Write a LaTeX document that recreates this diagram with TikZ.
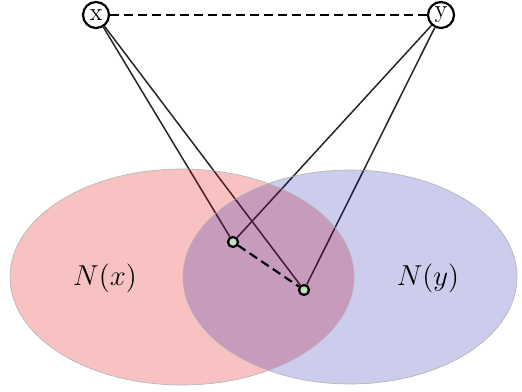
\documentclass[tikz,border=0pt]{standalone}
\usepackage{tikz}
\usetikzlibrary{positioning}

\pgfdeclarelayer{links}
\pgfdeclarelayer{sets}
\pgfsetlayers{links,sets,main}

\tikzset{
  vertex/.style={draw, circle, line width=1.1pt, fill=white, inner sep=0pt, minimum size=13pt, font=\fontsize{12.5}{14}\selectfont},
  nbr/.style={draw, circle, line width=1.1pt, fill=green!25!gray!35, inner sep=0pt, minimum size=5pt},
  link/.style={line width=0.75pt, black!85},
  nonedge/.style={line width=1.1pt, dashed, dash pattern=on 4.5pt off 2.5pt},
  setfill/.style={draw=gray!60, line width=0.3pt},
  setlabel/.style={font=\fontsize{14.5}{17}\selectfont}
}

\begin{document}
\begin{tikzpicture}[x=0.5pt, y=0.5pt]
    \useasboundingbox (0,0) rectangle (522,391);

    % Vertices x and y
    \node[vertex] (x) at (96, 376) {x};
    \node[vertex] (y) at (441, 376) {y};
    \draw[nonedge] (x) -- (y);

    % Common neighbours
    \node[nbr] (u) at (233, 149) {};
    \node[nbr] (v) at (304, 101) {};
    \draw[nonedge] (u) -- (v);

    % Edges to the neighbours
    \begin{pgfonlayer}{links}
        \foreach \s in {x, y} {
            \foreach \t in {u, v} {
                \draw[link] (\s) -- (\t);
            }
        }
    \end{pgfonlayer}

    % Neighbourhoods
    \begin{pgfonlayer}{sets}
        \fill[red!90!black, opacity=0.24] (182, 114) ellipse (172 and 108);
        \fill[blue!65!black, opacity=0.2] (350, 114) ellipse (167 and 107);
        \draw[setfill] (182, 114) ellipse (172 and 108);
        \draw[setfill] (350, 114) ellipse (167 and 107);
    \end{pgfonlayer}

    \node[setlabel] (Nx) at (105, 113) {$N(x)$};
    \node[setlabel] (Ny) at (428, 113) {$N(y)$};
\end{tikzpicture}
\end{document}
